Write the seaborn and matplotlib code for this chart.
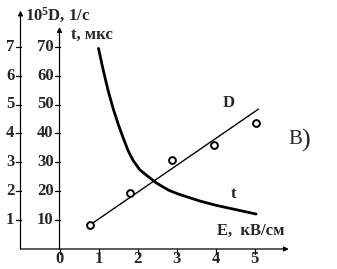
import matplotlib
matplotlib.use("Agg")
import matplotlib.pyplot as plt
import seaborn as sns

# ---- data ----
E_points = [0.77, 1.82, 2.88, 3.97, 5.03]
D_points = [0.83, 1.95, 3.08, 3.59, 4.37]
E_fit = [0.78, 5.10]
D_fit = [0.83, 4.84]
E_t = [1.00, 1.12, 1.25, 1.38, 1.51, 1.64, 1.76, 1.89, 2.06, 2.28, 2.49, 2.79,
       3.05, 3.60, 3.99, 4.46, 5.04]
t_vals = [69.4, 62.0, 54.6, 48.4, 43.0, 38.2, 34.0, 30.6, 27.4, 25.0, 22.8, 20.4,
          19.0, 16.6, 15.2, 13.8, 12.1]
x_ticks = [0, 1, 2, 3, 4, 5]
D_ticks = [1, 2, 3, 4, 5, 6, 7]
t_ticks = [10, 20, 30, 40, 50, 60, 70]

sns.set_style("white")
plt.rcParams["font.family"] = ["Liberation Serif", "DejaVu Serif"]
plt.rcParams["mathtext.default"] = "regular"

fig = plt.figure(figsize=(3.37, 2.69), dpi=100)
ax = fig.add_axes([0, 0, 1, 1])
xl = (-59.5 / 39, (337 - 59.5) / 39)
yl = ((249 - 269) / 28.9, 249 / 28.9)
ax.set_xlim(*xl)
ax.set_ylim(*yl)
ax.axis("off")
ax2 = ax.twinx()
ax2.set_ylim(yl[0] * 10, yl[1] * 10)
ax2.axis("off")

k = "k"
fs = 12
# axes lines with arrows
arr = dict(arrowstyle="-|>", color=k, lw=0.9, mutation_scale=7, shrinkA=0, shrinkB=0)
ax.annotate("", xy=(-1, 8.25), xytext=(-1, 0), arrowprops=arr)
ax.annotate("", xy=(0, 7.68), xytext=(0, 0), arrowprops=arr)
ax.annotate("", xy=(5.88, 0), xytext=(-1, 0), arrowprops=arr)

tl = 5 / 39
for d in D_ticks:
    ax.plot([-1 - tl, -1], [d, d], color=k, lw=0.9)
    ax.text(-1 - tl - 0.03, d, str(d), ha="right", va="center", fontsize=fs, fontweight="bold")
for t in t_ticks:
    ax.plot([-tl, 0], [t / 10, t / 10], color=k, lw=0.9)
    ax.text(-tl - 0.02, t / 10, str(t), ha="right", va="center", fontsize=fs, fontweight="bold")
for x in x_ticks:
    ax.plot([x, x], [0, -5 / 28.9], color=k, lw=0.9)
    ax.text(x, -0.36, str(x), ha="center", va="center", fontsize=fs, fontweight="bold")

# data
sns.lineplot(x=E_fit, y=D_fit, ax=ax, color=k, lw=1.0, estimator=None, sort=False)
sns.scatterplot(x=E_points, y=D_points, ax=ax, s=24, facecolor="white",
                edgecolor=k, linewidth=1.4, zorder=5)
sns.lineplot(x=E_t, y=t_vals, ax=ax2, color=k, lw=2.0, estimator=None, sort=False)

# labels
ax.text(-0.88, (249 - 15) / 28.9, "10$^5$D, 1/с", ha="left", va="center", fontsize=fs, fontweight="bold")
ax.text((71 - 59.5) / 39, (249 - 35) / 28.9, "t, мкс", ha="left", va="center", fontsize=fs, fontweight="bold")
ax.text((217 - 59.5) / 39, (249 - 231) / 28.9, "E,  кВ/см", ha="left", va="center", fontsize=fs, fontweight="bold")
ax.text((229 - 59.5) / 39, (249 - 103) / 28.9, "D", ha="center", va="center", fontsize=fs, fontweight="bold")
ax.text((233 - 59.5) / 39, (249 - 194) / 28.9, "t", ha="center", va="center", fontsize=fs, fontweight="bold")
ax.text((295 - 59.5) / 39, (249 - 139) / 28.9, "В", ha="center", va="center", fontsize=15)
ax.text((306 - 59.5) / 39, (249 - 140) / 28.9, ")", ha="center", va="center", fontsize=19, fontweight="light")

fig.savefig("out.png", dpi=100)
